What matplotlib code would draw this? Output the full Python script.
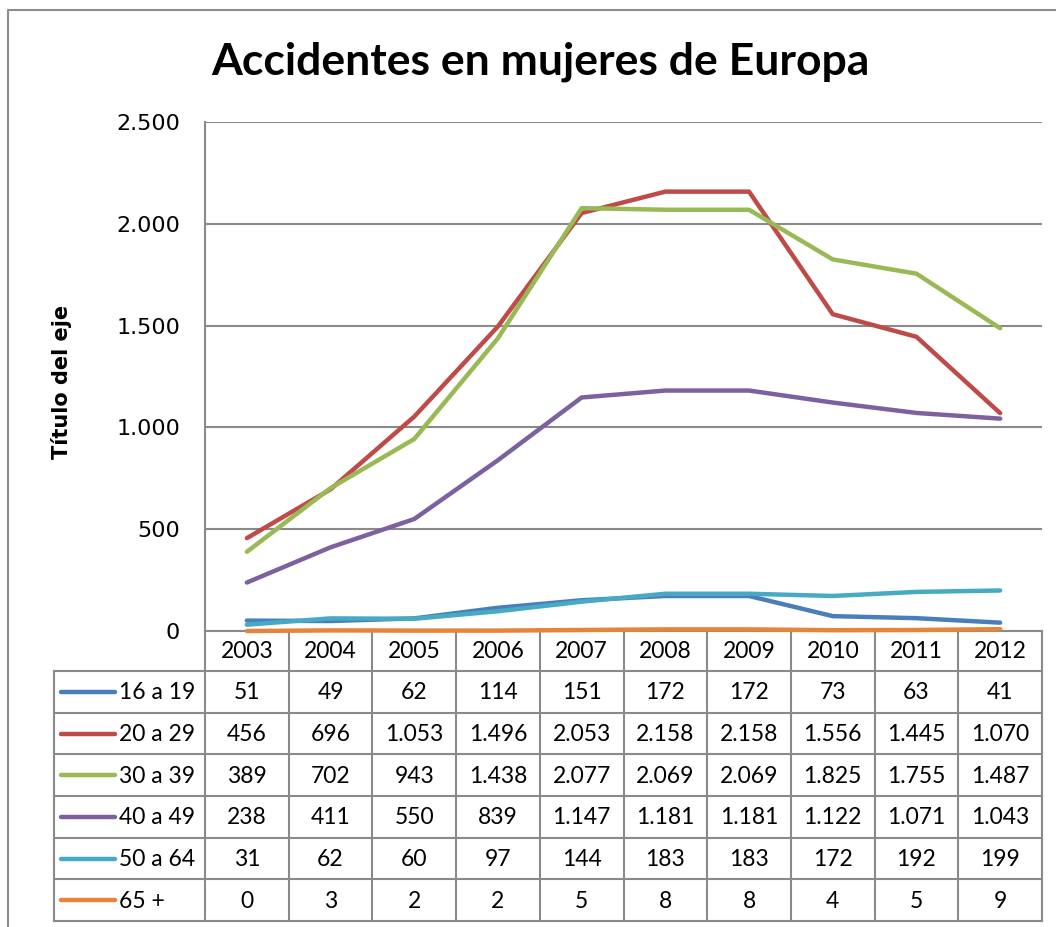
import matplotlib
matplotlib.use("Agg")
import matplotlib.pyplot as plt

# ---- data --------------------------------------------------------------
years = ["2003", "2004", "2005", "2006", "2007", "2008", "2009", "2010", "2011", "2012"]
groups = ["16 a 19", "20 a 29", "30 a 39", "40 a 49", "50 a 64", "65 +"]
g16_19 = [51, 49, 62, 114, 151, 172, 172, 73, 63, 41]
g20_29 = [456, 696, 1053, 1496, 2053, 2158, 2158, 1556, 1445, 1070]
g30_39 = [389, 702, 943, 1438, 2077, 2069, 2069, 1825, 1755, 1487]
g40_49 = [238, 411, 550, 839, 1147, 1181, 1181, 1122, 1071, 1043]
g50_64 = [31, 62, 60, 97, 144, 183, 183, 172, 192, 199]
g65 = [0, 3, 2, 2, 5, 8, 8, 4, 5, 9]
series = [g16_19, g20_29, g30_39, g40_49, g50_64, g65]
yticks = [0, 500, 1000, 1500, 2000, 2500]

COLORS = ["#4a7ebb", "#be4b48", "#98b954", "#7d60a0", "#46aac5", "#e6843c"]
GRID = "#8a8a8a"
W, H = 1056, 927

def fmt(v):
    return f"{v:,}".replace(",", ".")

fig = plt.figure(figsize=(W / 100, H / 100), dpi=100)

# background axes in pixel units (top-left origin) for frame + data table
bg = fig.add_axes([0, 0, 1, 1])
bg.set_xlim(0, W); bg.set_ylim(H, 0); bg.axis("off")

# outer chart frame (extends past right/bottom edge)
bg.plot([8, 8, W + 5], [H + 5, 10, 10], color="#8c8c8c", lw=1.5)

# title
bg.text(540, 62, "Accidentes en mujeres de Europa", family="Lato", fontweight="bold",
        fontsize=32, ha="center", va="center")

# ---- plot area ---------------------------------------------------------
PL, PR, PT, PB = 205, 1042, 122, 631
ax = fig.add_axes([PL / W, (H - PB) / H, (PR - PL) / W, (PB - PT) / H])
ax.set_xlim(-0.5, len(years) - 0.5)
ax.set_ylim(0, 2500)
ax.set_yticks(yticks)
ax.set_yticklabels([fmt(v) for v in yticks], fontsize=16, family="DejaVu Sans")
ax.set_xticks([])
ax.tick_params(axis="y", length=0, pad=18)
ax.grid(axis="y", color=GRID, lw=1.5)
ax.set_axisbelow(True)
for s in ["top", "right", "bottom"]:
    ax.spines[s].set_visible(False)
ax.spines["left"].set_color(GRID)
ax.spines["left"].set_linewidth(1.5)
ax.patch.set_alpha(0)

xs = list(range(len(years)))
for vals, col in zip(series, COLORS):
    ax.plot(xs, vals, color=col, lw=3.2, solid_capstyle="round",
            solid_joinstyle="round", clip_on=False, zorder=3)

fig.text(61 / W, 1 - 382 / H, "Título del eje", rotation=90, fontsize=15,
         fontweight="bold", ha="center", va="center")

# ---- data table --------------------------------------------------------
TL = 54
CW = (PR - PL) / len(years)
HDR_B = 671
RH = (921 - HDR_B) / len(groups)
TB = HDR_B + RH * len(groups)
tkw = dict(color=GRID, lw=1.5, solid_capstyle="projecting")
FS = 16.5

# header row
bg.plot([PL, PR], [PB, PB], **tkw)
for i in range(len(years) + 1):
    bg.plot([PL + i * CW] * 2, [PB, TB], **tkw)
bg.plot([TL, TL], [HDR_B, TB], **tkw)
for j in range(len(groups) + 1):
    bg.plot([TL, PR], [HDR_B + j * RH] * 2, **tkw)

for i, y in enumerate(years):
    bg.text(PL + (i + 0.5) * CW, (PB + HDR_B) / 2 + 1, y, family="Lato",
            fontsize=FS, ha="center", va="center")

for j, (g, vals, col) in enumerate(zip(groups, series, COLORS)):
    cy = HDR_B + (j + 0.5) * RH
    bg.plot([61, 115], [cy, cy], color=col, lw=3.2, solid_capstyle="round")
    bg.text(119, cy + 1, g, family="Lato", fontsize=FS, ha="left", va="center")
    for i, v in enumerate(vals):
        bg.text(PL + (i + 0.5) * CW, cy + 1, fmt(v), family="Lato",
                fontsize=FS, ha="center", va="center")

fig.savefig("out.png", dpi=100)
